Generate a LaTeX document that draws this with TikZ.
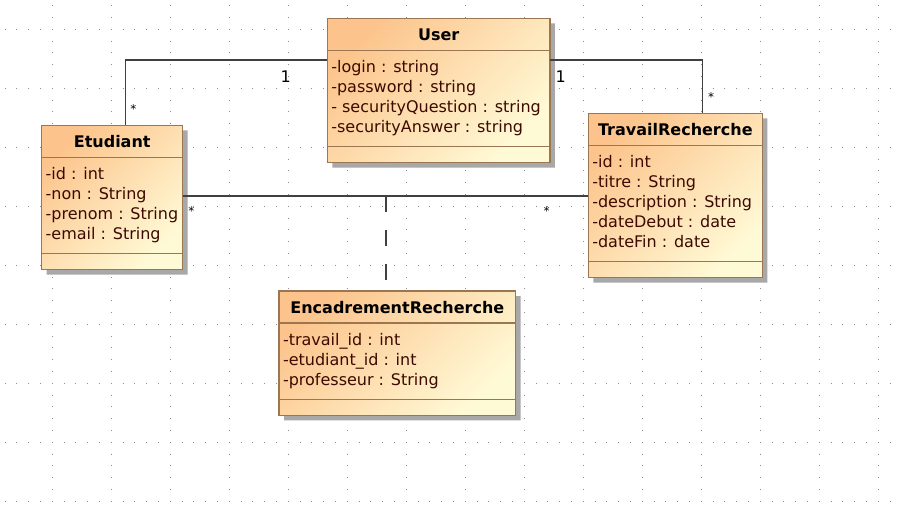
\documentclass[tikz,border=0pt]{standalone}
\usepackage{fontspec}
\setmainfont{DejaVu Sans}
\usetikzlibrary{shapes.multipart,shadows}

\definecolor{classtop}{RGB}{252,196,140}
\definecolor{classbot}{RGB}{255,250,214}
\definecolor{classline}{RGB}{155,118,83}
\definecolor{attrtext}{RGB}{60,10,0}
\definecolor{shadowgray}{RGB}{168,168,168}
\definecolor{griddot}{RGB}{140,140,140}
\definecolor{linkgray}{RGB}{64,64,64}

\newcommand{\attrs}[1]{\begin{tabular}{@{}l@{}}#1\end{tabular}}
\newcommand{\classname}[1]{\rule[-1.5pt]{0pt}{12pt}\textcolor{black}{\textbf{#1}}}
\newcommand{\noops}{\hspace*{0.1pt}}

\begin{document}
\begin{tikzpicture}[x=0.75pt, y=-0.75pt,
      umlclass/.style={rectangle split, rectangle split parts=3, draw=classline, line width=1.1pt,
        top color=classtop, bottom color=classbot, shading angle=45,
        drop shadow={shadow xshift=3.75pt, shadow yshift=-3.75pt, fill=shadowgray, opacity=1},
        rectangle split part align={center,left,left},
        inner xsep=3pt, inner ysep=5.5pt, outer sep=0pt, anchor=north west,
        font=\fontsize{12}{15}\selectfont, text=attrtext},
      assoc/.style={draw=linkgray, line width=0.9pt},
      assocdash/.style={assoc, dash pattern=on 12pt off 13.5pt},
      mult/.style={font=\fontsize{12}{15}\selectfont, inner sep=0pt, anchor=base},
      star/.style={font=\fontsize{9}{10}\selectfont, inner sep=0pt, anchor=base},
      griddots/.style={draw=griddot, line width=0.75pt, dash pattern=on 0.75pt off 8.1pt}
    ]
      \useasboundingbox (0,0) rectangle (898,504);
      % dotted grid
      \foreach \gx in {52,111,...,878}
        \draw[griddots] (\gx,5.2) -- (\gx,504);
      \foreach \gy in {29,88,...,501}
        \draw[griddots] (4.6,\gy) -- (898,\gy);

      % classes
      \node[umlclass, minimum width=167pt] (user) at (327.3,18.3) {\classname{User}
        \nodepart{two}\attrs{-login : string\\-password : string\\- securityQuestion : string\\-securityAnswer : string}
        \nodepart{three}\noops};
      \node[umlclass, minimum width=105.75pt] (etu) at (41.7,125.3) {\classname{Etudiant}
        \nodepart{two}\attrs{-id : int\\-non : String\\-prenom : String\\-email : String}
        \nodepart{three}\noops};
      \node[umlclass, minimum width=130.5pt] (tr) at (588.3,113.3) {\classname{TravailRecherche}
        \nodepart{two}\attrs{-id : int\\-titre : String\\-description : String\\-dateDebut : date\\-dateFin : date}
        \nodepart{three}\noops};
      \node[umlclass, minimum width=177.5pt] (enc) at (279,291) {\classname{EncadrementRecherche}
        \nodepart{two}\attrs{-travail\_id : int\\-etudiant\_id : int\\-professeur : String}
        \nodepart{three}\noops};

      % associations
      \coordinate (eu) at (125.3,60);
      \coordinate (ut) at (702.3,60);
      \coordinate (link) at (386,196);
      \draw[assoc] (etu.north -| eu) -- (eu) -- (user.west |- eu);
      \draw[assoc] (user.east |- ut) -- (ut) -- (tr.north -| ut);
      \draw[assoc] (etu.east |- link) -- (tr.west |- link);
      \draw[assocdash] (link) -- (enc.north -| link);

      % multiplicities
      \node[mult] (mUserEtu) at (285.7,82.7) {1};
      \node[star] (mEtuUser) at (133.3,113.7) {*};
      \node[mult] (mUserTr) at (560.7,82.3) {1};
      \node[star] (mTrUser) at (711,101.3) {*};
      \node[star] (mEtuTr) at (191.3,215.3) {*};
      \node[star] (mTrEtu) at (546.7,215.3) {*};
    \end{tikzpicture}
\end{document}
